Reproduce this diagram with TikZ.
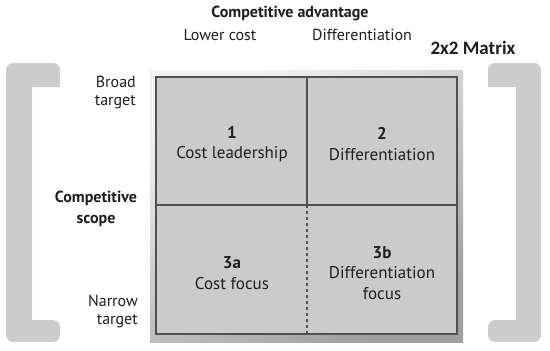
\documentclass[tikz,border=0pt]{standalone}
\usepackage{fontspec}
\setmainfont{PT Sans}
\newfontfamily\matfont{Carlito}
\definecolor{brk}{HTML}{CDCDCD}
\definecolor{cellc}{HTML}{CBCBCB}
\definecolor{linec}{HTML}{505050}
\definecolor{txt}{HTML}{1E1E1E}
\tikzset{
  lbl/.style={text=txt, font=\fontsize{16}{18}\selectfont, inner sep=0pt, align=center},
  hdr/.style={text=txt, font=\fontsize{16}{21}\selectfont\bfseries, inner sep=0pt, align=center},
  celltxt/.style={text=txt, font=\fontsize{17}{20.5}\selectfont, inner sep=0pt, align=center},
  gridline/.style={draw=linec, line width=1.1pt},
  bracket/.style={fill=brk}
}
\begin{document}
\begin{tikzpicture}[x=1pt,y=-1pt]
\useasboundingbox (0,0) rectangle (550,351);
\fill[white] (0,0) rectangle (550,351);
% brackets
\fill[bracket] (60,74) [rounded corners=7pt] -- (60,63) -- (6,63) -- (6,342) -- (60,342) -- (60,320) [sharp corners] -- (32,320) -- (32,87) -- (60,87) [rounded corners=7pt] -- (60,63) [sharp corners] -- (60,74) -- cycle;
\fill[bracket] (488,74) [rounded corners=7pt] -- (488,63) -- (541,63) -- (541,342) -- (488,342) -- (488,320) [sharp corners] -- (516,320) -- (516,87) -- (488,87) [rounded corners=7pt] -- (488,63) [sharp corners] -- (488,74) -- cycle;
% frame
\shade[top color=gray!10, bottom color=gray!75, shading angle=30] (150,70) rectangle (463,342);
\fill[cellc] (156,77) rectangle (457,334);
\coordinate (tl) at (156,77);
\coordinate (br) at (457,334);
\coordinate (mt) at (307,77);
\coordinate (mm) at (307,205);
\coordinate (mb) at (307,334);
\coordinate (ml) at (156,205);
\coordinate (mr) at (457,205);
\draw[gridline] (tl) rectangle (br);
\draw[gridline] (mt) -- (mm);
\draw[gridline] (ml) -- (mr);
\draw[draw=linec, line width=1.1pt, dash pattern=on 3pt off 3pt] (mm) -- (mb);
% headers
\node[hdr] (ca) at (290,13) {Competitive advantage};
\node[lbl] (lc) at (220,35) {Lower cost};
\node[lbl] (df) at (362,35) {Differentiation};
\node[text=txt, font=\matfont\fontsize{19}{22}\selectfont\bfseries, inner sep=0pt] (mx) at (473,48) {2x2 Matrix};
\node[lbl, anchor=east, align=right] (bt) at (136,93) {Broad\\target};
\node[hdr] (cs) at (96,209) {Competitive\\scope};
\node[lbl, anchor=east, align=right] (nt) at (138,312) {Narrow\\target};
% cells
\node[celltxt] (c1) at (232,144) {\textbf{1}\\Cost leadership};
\node[celltxt] (c2) at (382,144) {\textbf{2}\\Differentiation};
\node[celltxt] (c3a) at (232,273) {\textbf{3a}\\Cost focus};
\node[celltxt] (c3b) at (382,273) {\textbf{3b}\\Differentiation\\focus};
\end{tikzpicture}
\end{document}
